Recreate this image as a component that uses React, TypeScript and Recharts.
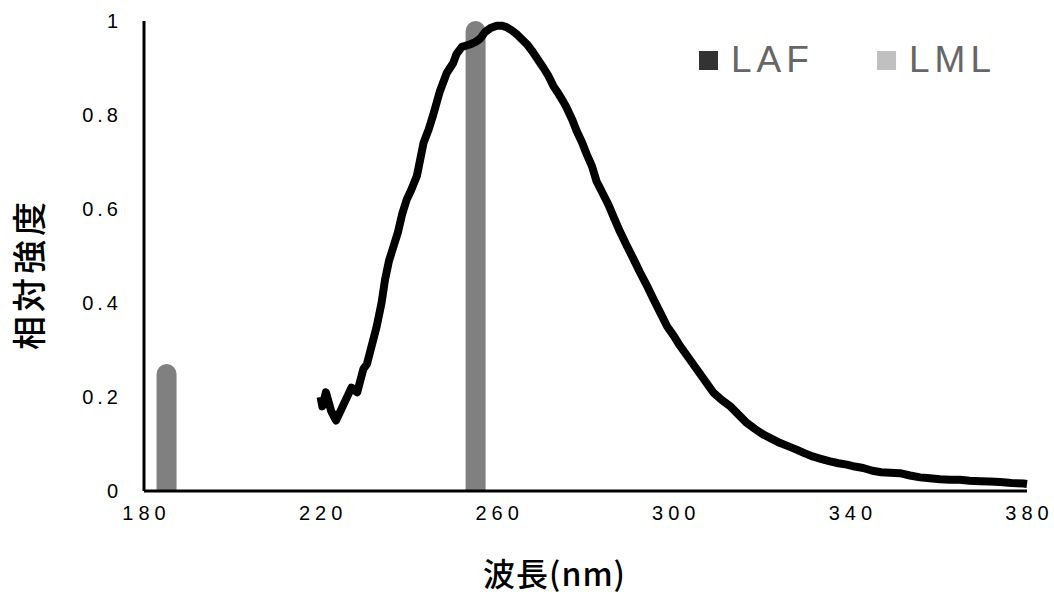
import { Bar, ComposedChart, Legend, Line, XAxis, YAxis } from "recharts";

// wavelength (nm) / relative intensity
const lafWavelength = [
  220.0, 220.4, 221.2, 222.4, 223.5, 225.0, 227.0, 228.3, 229.7, 230.5, 231.6, 232.7, 233.8,
  234.6, 235.5, 236.5, 237.5, 238.5, 239.5, 240.5, 241.8, 243.3, 244.5, 245.5, 247.0, 248.6,
  250.0, 250.8, 252.0, 253.8, 255.0, 256.1, 257.2, 258.5, 259.9, 261.0, 262.1, 263.3, 264.4,
  265.5, 266.7, 268.0, 269.2, 270.5, 271.5, 272.7, 273.7, 275.0, 275.7, 277.0, 278.0, 279.2,
  280.3, 281.5, 282.5, 283.8, 285.2, 286.5, 287.8, 289.3, 290.8, 292.3, 293.9, 295.4, 296.9,
  298.5, 300.0, 301.4, 303.3, 305.2, 307.1, 309.0, 310.8, 312.7, 314.6, 316.5, 318.4, 320.3,
  322.2, 324.1, 326.0, 327.8, 329.7, 331.6, 333.5, 335.4, 337.3, 339.2, 341.0, 342.9, 345.0,
  347.0, 349.0, 351.2, 353.5, 355.8, 358.0, 360.3, 362.5, 364.8, 367.0, 369.4, 371.6, 373.9,
  376.5, 379.2, 380.0,
];
const lafIntensity = [
  0.2, 0.18, 0.21, 0.17, 0.15, 0.18, 0.22, 0.21, 0.26, 0.27, 0.31, 0.35, 0.4,
  0.45, 0.49, 0.52, 0.55, 0.59, 0.62, 0.64, 0.67, 0.74, 0.77, 0.8, 0.85, 0.89,
  0.91, 0.93, 0.945, 0.95, 0.955, 0.962, 0.976, 0.985, 0.99, 0.99, 0.987, 0.98, 0.972,
  0.962, 0.951, 0.935, 0.918, 0.9, 0.885, 0.862, 0.848, 0.828, 0.816, 0.79, 0.766, 0.742,
  0.716, 0.69, 0.659, 0.635, 0.609, 0.58, 0.552, 0.523, 0.495, 0.466, 0.437, 0.408, 0.38,
  0.35, 0.33, 0.309, 0.284, 0.259, 0.234, 0.209, 0.194, 0.181, 0.163, 0.145, 0.132, 0.12,
  0.111, 0.102, 0.095, 0.088, 0.08, 0.073, 0.068, 0.063, 0.059, 0.056, 0.052, 0.049, 0.043,
  0.04, 0.039, 0.038, 0.033, 0.029, 0.027, 0.025, 0.024, 0.024, 0.022, 0.021, 0.02, 0.019,
  0.017, 0.016, 0.015,
];

// mercury lamp lines
const lmlWavelength = [185, 255];
const lmlIntensity = [0.27, 1.0];

const xTicks = [180, 220, 260, 300, 340, 380];
const yTicks = [0, 0.2, 0.4, 0.6, 0.8, 1];

const legendItems = [
  { name: "LAF", color: "#333333" },
  { name: "LML", color: "#c0c0c0" },
];

const lafRows = lafWavelength.map((x, i) => ({ x, laf: lafIntensity[i] }));
const lmlRows = lmlWavelength.map((x, i) => ({ x, lml: lmlIntensity[i] }));

const digitFont = "'Liberation Sans', sans-serif";
const cjkFont = "'Noto Sans CJK JP', sans-serif";

function XTick(props: any) {
  const { x, y, payload } = props;
  return (
    <text x={x + 2.5} y={y + 21} textAnchor="middle" fontFamily={digitFont} fontSize={20}
      letterSpacing={5} fill="#000">
      {payload.value}
    </text>
  );
}

function YTick(props: any) {
  const { y, payload } = props;
  return (
    <text x={122} y={y + 7} textAnchor="end" fontFamily={digitFont} fontSize={20}
      letterSpacing={4} fill="#000">
      {payload.value}
    </text>
  );
}

function YLabel(props: any) {
  const { viewBox } = props;
  const cx = 27;
  const cy = viewBox.y + viewBox.height / 2 + 18;
  return (
    <text x={cx} y={cy} transform={`rotate(-90, ${cx}, ${cy})`} textAnchor="middle"
      dominantBaseline="central" fontFamily={cjkFont} fontSize={34} fontWeight={500}
      letterSpacing={4} fill="#000">
      相対強度
    </text>
  );
}

function XLabel(props: any) {
  const { viewBox } = props;
  const cx = viewBox.x + viewBox.width / 2 - 31;
  return (
    <text x={cx} y={572} textAnchor="middle" dominantBaseline="central" fontFamily={cjkFont}
      fontSize={32} fontWeight={500} letterSpacing={1} fill="#000">
      波長(nm)
    </text>
  );
}

function LegendBox() {
  return (
    <div style={{ display: "flex", alignItems: "center", height: 40 }}>
      {legendItems.map((item) => (
        <div key={item.name} style={{ display: "flex", alignItems: "center", width: 178 }}>
          <span style={{ width: 19, height: 19, background: item.color, marginRight: 13 }} />
          <span style={{ fontFamily: "'Liberation Sans', sans-serif", fontSize: 37, color: "#666",
            letterSpacing: 5, lineHeight: "40px" }}>
            {item.name}
          </span>
        </div>
      ))}
    </div>
  );
}

export default function App() {
  return (
    <div style={{ position: "absolute", left: 0, top: 0, width: 1054, height: 597, background: "#fff" }}>
      <ComposedChart width={1054} height={597} data={lmlRows}
        margin={{ top: 21, right: 27, bottom: 0, left: 0 }}>
        <XAxis type="number" dataKey="x" domain={[180, 380]} ticks={xTicks} height={106}
          axisLine={{ stroke: "#000", strokeWidth: 3 }} tickLine={false} tick={<XTick />}
          label={<XLabel />} />
        {/* own axis for the lamp lines so their band width isn't squeezed by the dense spectrum */}
        <XAxis xAxisId="lml" type="number" dataKey="x" domain={[180, 380]} hide />
        <YAxis type="number" domain={[0, 1]} ticks={yTicks} width={144}
          axisLine={{ stroke: "#000", strokeWidth: 3 }} tickLine={false} tick={<YTick />}
          label={<YLabel />} />
        <Bar xAxisId="lml" dataKey="lml" fill="#808080" barSize={20} radius={[10, 10, 0, 0]}
          isAnimationActive={false} />
        <Line data={lafRows} dataKey="laf" type="linear" stroke="#000" strokeWidth={8}
          strokeLinejoin="round" dot={false} activeDot={false} isAnimationActive={false} />
        <Legend layout="horizontal" verticalAlign="middle" align="center" content={<LegendBox />}
          wrapperStyle={{ top: 40, left: 699, width: 356 }} />
      </ComposedChart>
    </div>
  );
}
